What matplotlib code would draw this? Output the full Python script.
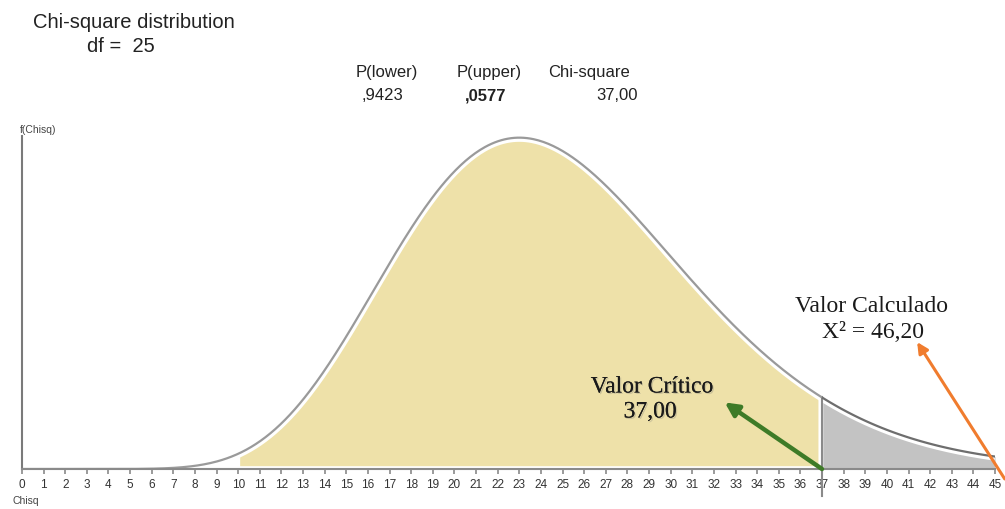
import math
import numpy as np
import matplotlib
matplotlib.use("Agg")
from matplotlib import pyplot as plt
import matplotlib.patheffects as pe

# values
df = 25
crit = 37.00
calc = 46.20
p_lower = ",9423"
p_upper = ",0577"
chi_txt = "37,00"
fill_start = 10
xmax = 45
ticks = list(range(0, 46))

def chi2pdf(x, k):
	x = np.asarray(x, dtype=float)
	out = np.zeros_like(x)
	m = x > 0
	lg = (k / 2 - 1) * np.log(x[m]) - x[m] / 2 - (k / 2) * math.log(2) - math.lgamma(k / 2)
	out[m] = np.exp(lg)
	return out

xs = np.linspace(0, xmax, 600)
ys = chi2pdf(xs, df)
ypeak = chi2pdf([df - 2], df)[0]

fig = plt.figure(figsize=(10.05, 5.10), dpi=100)
ax = fig.add_axes([22 / 1005, 40 / 510, 973 / 1005, 333 / 510])
ax.set_xlim(0, xmax)
ax.set_ylim(0, ypeak * 1.005)

# yellow area (lower tail from 10 to crit)
m = (xs >= fill_start) & (xs <= crit - 0.12)
ax.fill_between(xs[m], ypeak * 0.01, ys[m], color='#EEE1A9', lw=0, zorder=1)
# gray upper tail
m2 = xs >= crit
ax.fill_between(xs[m2], 0, ys[m2], color='#C3C3C3', lw=0, zorder=1)
ax.plot([crit, crit], [-ypeak * 0.08, chi2pdf([crit], df)[0]], color='#8A8A8A', lw=1.5,
	clip_on=False, zorder=3)

# curve with white halo
ax.plot(xs[xs > 5], ys[xs > 5], color='white', lw=6, zorder=2, solid_capstyle='butt')
ax.plot(xs[xs < crit], ys[xs < crit], color='#9A9A9A', lw=1.6, zorder=3)
ax.plot(xs[xs >= crit], ys[xs >= crit], color='#6E6E6E', lw=1.6, zorder=3)

for s in ['top', 'right']:
	ax.spines[s].set_visible(False)
ax.spines['left'].set_color('#7A7A7A')
ax.spines['bottom'].set_color('#8A8A8A')
ax.spines['left'].set_linewidth(1.5)
ax.spines['bottom'].set_linewidth(1.5)
ax.spines['bottom'].set_zorder(4)
ax.set_yticks([])
ax.set_xticks(ticks)
ax.set_xticklabels([str(t) for t in ticks], fontsize=8.5, family='Liberation Sans', color='#333333')
ax.tick_params(axis='x', direction='out', length=3.5, width=1.2, color='#8A8A8A', pad=3)
ax.patch.set_alpha(0)

hdr = dict(family='Liberation Sans', va='center', color='#222222')
# header texts
fig.text(33 / 1005, 1 - 22 / 510, "Chi-square distribution", fontsize=14.5, ha='left', **hdr)
fig.text(87 / 1005, 1 - 46 / 510, "df =  " + str(df), fontsize=14.5, ha='left', **hdr)
fig.text(356 / 1005, 1 - 73 / 510, "P(lower)", fontsize=12, **hdr)
fig.text(362 / 1005, 1 - 96 / 510, p_lower, fontsize=12, **hdr)
fig.text(457 / 1005, 1 - 73 / 510, "P(upper)", fontsize=12, **hdr)
fig.text(465 / 1005, 1 - 96 / 510, p_upper, fontsize=12, weight='bold', **hdr)
fig.text(548 / 1005, 1 - 73 / 510, "Chi-square", fontsize=12, **hdr)
fig.text(638 / 1005, 1 - 96 / 510, chi_txt, fontsize=12, ha='right', **hdr)
fig.text(20 / 1005, 1 - 130 / 510, "f(Chisq)", fontsize=7.5, family='Liberation Sans', va='center', color='#444444')
fig.text(12 / 1005, 1 - 501 / 510, "Chisq", fontsize=7.5, family='Liberation Sans', va='center', color='#444444')

shadow = [pe.withSimplePatchShadow(offset=(1, -1), shadow_rgbFace='#777777', alpha=0.3), pe.Normal()]
ann = dict(family='Liberation Serif', ha='center', va='center', color='#1a1a1a')
fig.text(652 / 1005, 1 - 388 / 510, "Valor Crítico", fontsize=17, path_effects=shadow, **ann)
fig.text(650 / 1005, 1 - 413 / 510, "37,00", fontsize=17, path_effects=shadow, **ann)
fig.text(871 / 1005, 1 - 307 / 510, "Valor Calculado", fontsize=17, **ann)
fig.text(873 / 1005, 1 - 333 / 510, "X² = 46,20", fontsize=17, **ann)

# arrows
ax.annotate("", xy=(32.5, ypeak * 0.201), xytext=(crit, 0),
	arrowprops=dict(arrowstyle='-|>', color='#3E7B27', lw=3.2, mutation_scale=20, shrinkA=0, shrinkB=0),
	annotation_clip=False, zorder=5)
ax.annotate("", xy=(41.4, ypeak * 0.383), xytext=(45.45, -ypeak * 0.03),
	arrowprops=dict(arrowstyle='-|>', color='#F07C2E', lw=2.2, mutation_scale=16, shrinkA=0, shrinkB=0),
	annotation_clip=False, zorder=5)

fig.savefig("out.png", dpi=100)
